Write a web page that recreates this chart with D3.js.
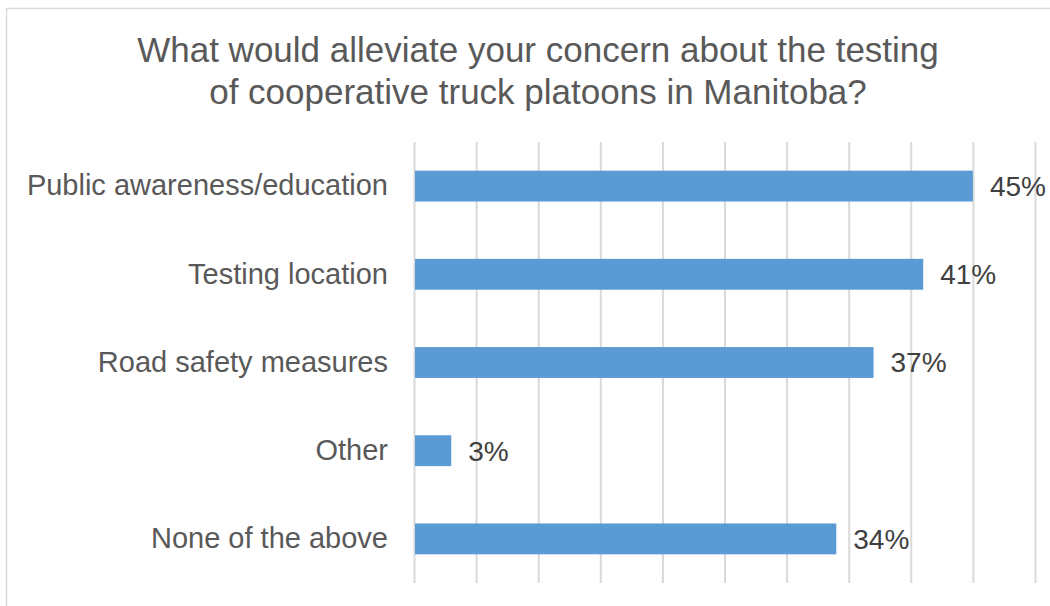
<!DOCTYPE html>
<html>
<head>
<meta charset="utf-8">
<script src="https://cdn.jsdelivr.net/npm/d3@7/dist/d3.min.js"></script>
<style>
  html, body { margin: 0; padding: 0; background: #fff; }
  svg { display: block; font-family: "Liberation Sans", Arial, sans-serif; }
</style>
</head>
<body>
<svg id="chart" width="1050" height="606"></svg>
<script>
// Survey responses (percent of respondents)
const categories = [
  "Public awareness/education",
  "Testing location",
  "Road safety measures",
  "Other",
  "None of the above"
];
const values = [45, 41, 37, 3, 34];
const gridTicks = [0, 5, 10, 15, 20, 25, 30, 35, 40, 45, 50];
const titleLines = [
  "What would alleviate your concern about the testing",
  "of cooperative truck platoons in Manitoba?"
];

const svg = d3.select("#chart");
const plot = { left: 414, right: 1035, top: 142, bottom: 583 };

// Outer chart border
svg.append("rect")
  .attr("x", 6.5).attr("y", 8.5)
  .attr("width", 1200).attr("height", 800)
  .attr("fill", "#fff")
  .attr("stroke", "#D9D9D9").attr("stroke-width", 1.5);

// Title
svg.append("text")
  .attr("x", 538).attr("y", 62)
  .attr("text-anchor", "middle")
  .attr("fill", "#595959")
  .attr("font-size", 35)
  .selectAll("tspan")
  .data(titleLines)
  .join("tspan")
  .attr("x", 538)
  .attr("dy", (d, i) => i === 0 ? 0 : 42)
  .text(d => d);

const x = d3.scaleLinear().domain([0, 50]).range([plot.left, plot.right]);
const y = d3.scaleBand().domain(categories).range([plot.top, plot.bottom]).paddingInner(0.65).paddingOuter(0.325);

// Vertical gridlines
const grid = d3.axisBottom(x).tickValues(gridTicks).tickSize(plot.bottom - plot.top).tickFormat("");
svg.append("g")
  .attr("transform", `translate(0,${plot.top})`)
  .call(grid)
  .call(g => g.select(".domain").remove())
  .call(g => g.selectAll(".tick line").attr("stroke", "#D9D9D9").attr("stroke-width", 2));

// Bars
svg.append("g")
  .selectAll("rect")
  .data(values)
  .join("rect")
  .attr("x", x(0) + 1)
  .attr("y", (d, i) => y(categories[i]))
  .attr("width", d => x(d) - x(0) - 1)
  .attr("height", y.bandwidth())
  .attr("fill", "#5B9BD5");

// Category labels
const yAxis = d3.axisLeft(y).tickSize(0).tickPadding(26);
svg.append("g")
  .attr("transform", `translate(${plot.left},0)`)
  .call(yAxis)
  .call(g => g.select(".domain").remove())
  .call(g => g.selectAll(".tick text")
    .attr("fill", "#595959")
    .attr("font-size", 29)
    .attr("font-family", "Liberation Sans, Arial, sans-serif"));

// Value labels
svg.append("g")
  .selectAll("text")
  .data(values)
  .join("text")
  .attr("x", d => x(d) + 17)
  .attr("y", (d, i) => y(categories[i]) + y.bandwidth() / 2)
  .attr("dy", "0.35em")
  .attr("fill", "#404040")
  .attr("font-size", 28)
  .text(d => d + "%");
</script>
</body>
</html>
